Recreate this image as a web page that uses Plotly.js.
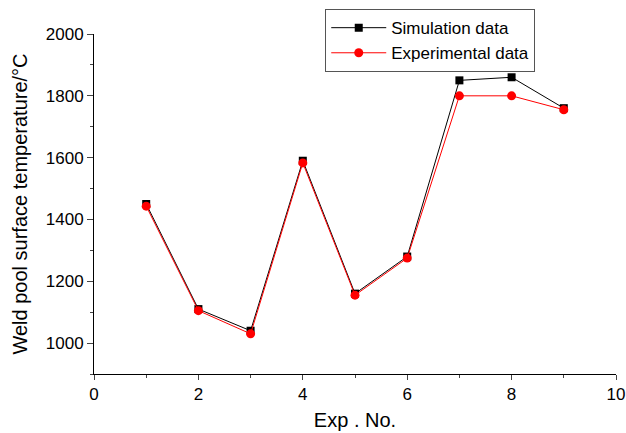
<!DOCTYPE html>
<html><head><meta charset="utf-8">
<script src="https://cdn.plot.ly/plotly-3.0.1.min.js"></script>
<style>html,body{margin:0;padding:0;background:#fff}#chart{width:626px;height:433px}</style>
</head><body><div id="chart"></div>
<script>
const expNo = [1, 2, 3, 4, 5, 6, 7, 8, 9];
const simulation = [1450, 1110, 1040, 1590, 1160, 1280, 1850, 1860, 1760];
const experimental = [1443, 1105, 1030, 1583, 1155, 1275, 1800, 1800, 1755];
const xTicks = [0, 2, 4, 6, 8, 10];
const yTicks = [1000, 1200, 1400, 1600, 1800, 2000];

const traces = [
  {x: expNo, y: simulation, name: 'Simulation data', type: 'scatter', mode: 'lines+markers',
   line: {color: '#000', width: 1}, marker: {symbol: 'square', size: 8, color: '#000'}},
  {x: expNo, y: experimental, name: 'Experimental data', type: 'scatter', mode: 'lines+markers',
   line: {color: '#ff0000', width: 1}, marker: {symbol: 'circle', size: 9, color: '#ff0000'}}
];
const font = 'Liberation Sans, Arial, sans-serif';
const layout = {
  width: 626, height: 433,
  margin: {l: 94, r: 10, t: 33, b: 59},
  paper_bgcolor: '#fff', plot_bgcolor: '#fff',
  font: {family: font, color: '#000', size: 17},
  showlegend: true,
  legend: {x: 0.443, y: 1.07, xanchor: 'left', yanchor: 'top', bordercolor: '#555', borderwidth: 1,
           bgcolor: '#fff', font: {size: 17, family: font}, tracegroupgap: 0, itemwidth: 55},
  xaxis: {range: [0, 10], tickvals: xTicks, ticks: 'outside', ticklen: 5, tickwidth: 1,
          minor: {dtick: 1, ticks: 'outside', ticklen: 3, tickwidth: 1, showgrid: false},
          showline: true, linecolor: '#000', linewidth: 1, showgrid: false, zeroline: false,
          tickfont: {size: 17}, title: {text: 'Exp . No.', font: {size: 20}, standoff: 9}},
  yaxis: {range: [900, 2000], tickvals: yTicks, ticks: 'outside', ticklen: 6, tickwidth: 1,
          minor: {dtick: 100, ticks: 'outside', ticklen: 3, tickwidth: 1, showgrid: false},
          showline: true, linecolor: '#000', linewidth: 1, showgrid: false, zeroline: false,
          tickfont: {size: 17}, title: {text: 'Weld pool surface temperature/°C', font: {size: 20}, standoff: 12}}
};
Plotly.newPlot('chart', traces, layout, {staticPlot: true});
</script></body></html>
